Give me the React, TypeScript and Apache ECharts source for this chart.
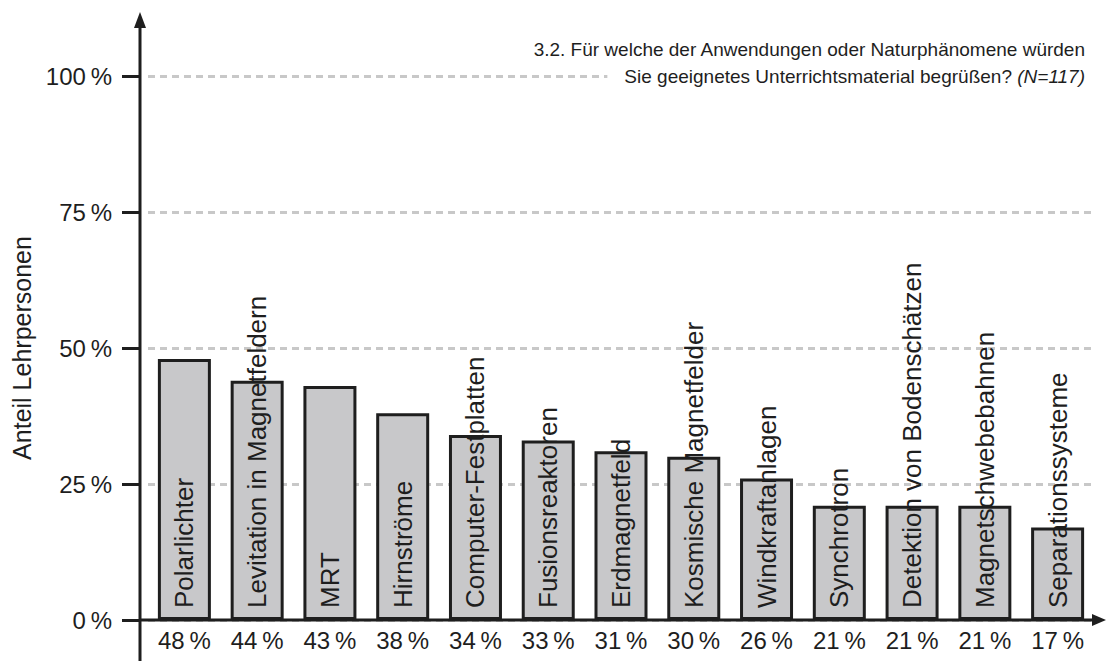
import React, { useEffect, useRef } from "react";
import * as echarts from "echarts";

const categories = [
  "Polarlichter",
  "Levitation in Magnetfeldern",
  "MRT",
  "Hirnströme",
  "Computer-Festplatten",
  "Fusionsreaktoren",
  "Erdmagnetfeld",
  "Kosmische Magnetfelder",
  "Windkraftanlagen",
  "Synchrotron",
  "Detektion von Bodenschätzen",
  "Magnetschwebebahnen",
  "Separationssysteme",
];
const values = [48, 44, 43, 38, 34, 33, 31, 30, 26, 21, 21, 21, 17];
const yTicks = [0, 25, 50, 75, 100];
const titleLine1 = "3.2. Für welche der Anwendungen oder Naturphänomene würden";
const titleLine2 = "Sie geeignetes Unterrichtsmaterial begrüßen?";
const titleN = "(N=117)";
const yName = "Anteil Lehrpersonen";

const W = 1106;
const H = 661;
const FONT = "'Liberation Sans', Arial, sans-serif";
const INK = "#1e1e1e";

export default function App() {
  const ref = useRef<HTMLDivElement>(null);
  useEffect(() => {
    document.body.style.margin = "0";
    if (!ref.current) return;
    const chart = echarts.init(ref.current, undefined, { renderer: "svg" });
    const gridLeft = 148;
    const gridRight = 12;
    const gridTop = 76;
    const gridBottom = 41;
    const axisX = 140;
    const baseY = H - gridBottom;
    chart.setOption({
      animation: false,
      textStyle: { fontFamily: FONT },
      grid: { left: gridLeft, right: gridRight, top: gridTop, bottom: gridBottom },
      xAxis: {
        type: "category",
        data: categories,
        axisLine: { show: false },
        axisTick: { show: false },
        axisLabel: {
          interval: 0,
          margin: 8,
          fontSize: 24,
          color: INK,
          fontFamily: FONT,
          formatter: (_v: string, i: number) => values[i] + "\u2009%",
        },
      },
      yAxis: {
        type: "value",
        min: yTicks[0],
        max: yTicks[yTicks.length - 1],
        interval: 25,
        offset: gridLeft - axisX,
        name: yName,
        nameLocation: "middle",
        nameGap: 97,
        nameTextStyle: { fontSize: 25, color: INK, fontFamily: FONT },
        axisLine: { show: false },
        axisTick: { show: true, length: 18, lineStyle: { color: INK, width: 3 } },
        axisLabel: {
          margin: 28,
          fontSize: 24,
          color: INK,
          fontFamily: FONT,
          formatter: (v: number) => v + "\u2009%",
        },
        splitLine: {
          show: true,
          lineStyle: { color: "#c8c8c8", width: 3, type: [7, 5] },
        },
      },
      series: [
        {
          type: "bar",
          data: values,
          barWidth: 53,
          itemStyle: { color: "#c8c8ca", borderColor: INK, borderWidth: 3 },
          label: {
            show: true,
            position: "insideBottom",
            distance: 12,
            rotate: 90,
            align: "left",
            verticalAlign: "middle",
            fontSize: 26,
            color: INK,
            fontFamily: FONT,
            formatter: (p: any) => categories[p.dataIndex],
          },
          z: 2,
        },
      ],
      graphic: [
        {
          type: "line",
          shape: { x1: axisX, y1: H, x2: axisX, y2: 24 },
          style: { stroke: INK, lineWidth: 3 },
          z: 10,
        },
        {
          type: "polygon",
          shape: { points: [[axisX, 12], [axisX - 6, 28], [axisX + 6, 28]] },
          style: { fill: INK },
          z: 10,
        },
        {
          type: "line",
          shape: { x1: axisX, y1: baseY, x2: W - 10, y2: baseY },
          style: { stroke: INK, lineWidth: 3 },
          z: 10,
        },
        {
          type: "polygon",
          shape: { points: [[W, baseY], [W - 14, baseY - 6], [W - 14, baseY + 6]] },
          style: { fill: INK },
          z: 10,
        },
        {
          type: "text",
          x: 1085,
          y: 49,
          style: {
            text: titleLine1,
            fontSize: 19,
            fontFamily: FONT,
            fill: INK,
            align: "right",
            verticalAlign: "middle",
          },
          z: 10,
        },
        {
          type: "text",
          x: 1091,
          y: 76,
          style: {
            text: "{a|" + titleLine2 + " }{b|" + titleN + "}",
            rich: {
              a: { fontSize: 19, fontFamily: FONT, fill: INK },
              b: { fontSize: 19, fontFamily: FONT, fill: INK, fontStyle: "italic" },
            },
            fontSize: 19,
            fontFamily: FONT,
            fill: INK,
            align: "right",
            verticalAlign: "middle",
            backgroundColor: "#ffffff",
            padding: [2, 6, 2, 17],
          },
          z: 10,
        },
      ],
    });
    return () => chart.dispose();
  }, []);
  return <div ref={ref} style={{ width: W, height: H }} />;
}
